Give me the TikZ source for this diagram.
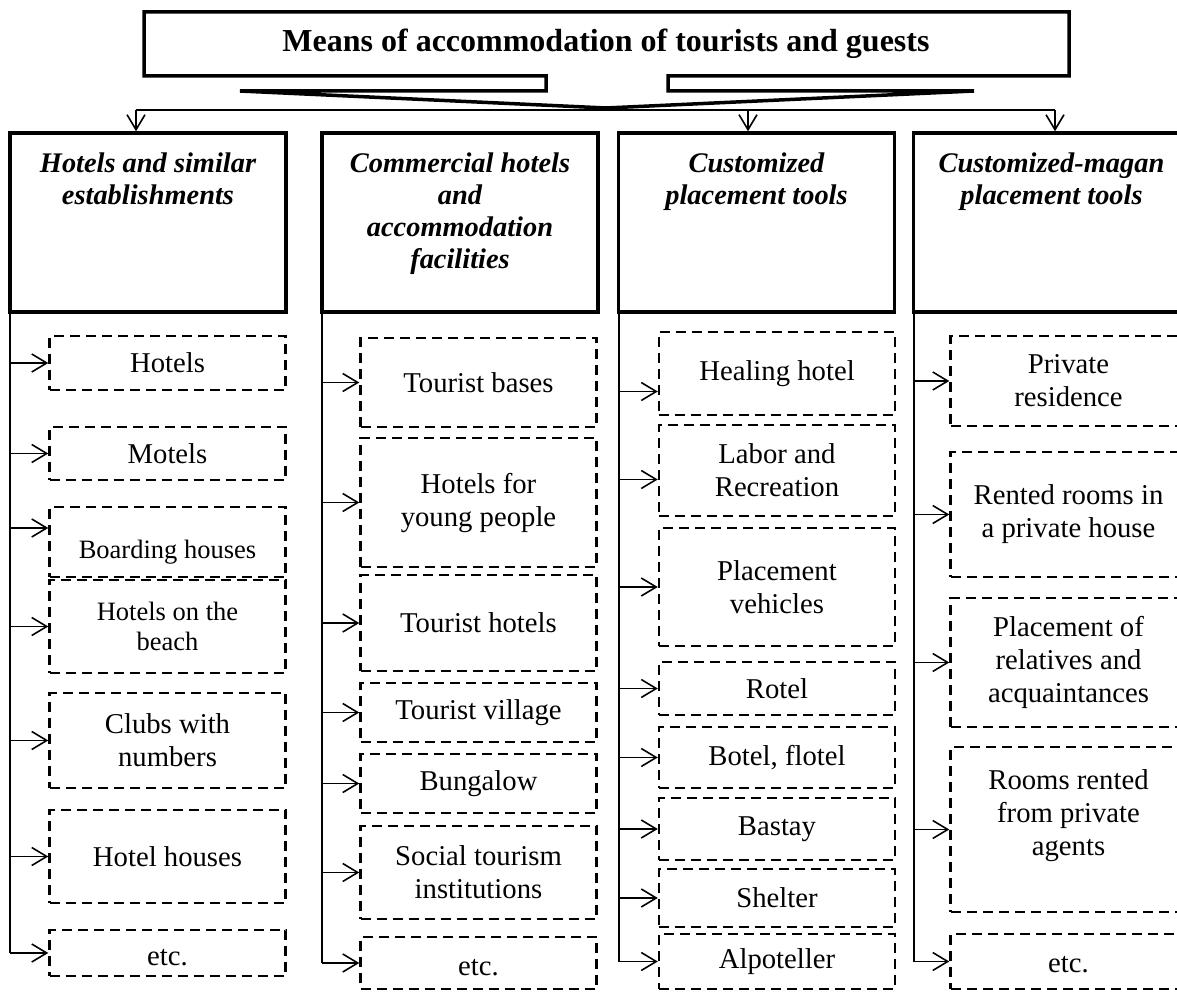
\documentclass[tikz,border=0pt]{standalone}
\usepackage{fontspec}
\setmainfont{Liberation Serif}
\usetikzlibrary{positioning,arrows.meta}

\begin{document}
\begin{tikzpicture}[x=1pt,y=-1pt,
    >={Straight Barb[length=15pt,width=18pt]},
    link/.style={line width=1.6pt},
    headbox/.style={draw,line width=3.5pt,minimum width=276pt,minimum height=179pt,inner sep=0pt},
    headtext/.style={inner sep=0pt,align=center,font=\fontsize{28.4}{32}\selectfont\bfseries\itshape},
    item/.style={draw,line width=2.4pt,dash pattern=on 10pt off 6pt,minimum width=236pt,inner sep=0pt,align=center,font=\fontsize{28.7}{33}\selectfont},
    smallitem/.style={item,font=\fontsize{26.5}{30}\selectfont}]
    \useasboundingbox (0,0) rectangle (1177,992);
    \clip (0,0) rectangle (1177,992);

    % title callout
    \node[font=\fontsize{32}{36}\selectfont\bfseries] (title) at (606,44) {Means of accommodation of tourists and guests};
    \coordinate (tip) at (606,108);
    \draw[line width=3.5pt] (144,12) -- (1069,12) -- (1069,76) -- (668,76) -- (668,91) -- (974,91) -- (tip)
        -- (240,91) -- (546,91) -- (546,76) -- (144,76) -- cycle;

    % column heads
    \node[headbox] (h1) at (148,222.5) {};
    \node[headbox] (h2) at (460,222.5) {};
    \node[headbox] (h3) at (756.5,222.5) {};
    \node[headbox] (h4) at (1051.5,222.5) {};
    \node[headtext, below=21pt of h1.north] (t1) {Hotels and similar\\establishments};
    \node[headtext, below=21pt of h2.north] (t2) {Commercial hotels\\and\\accommodation\\facilities};
    \node[headtext, below=21pt of h3.north] (t3) {Customized\\placement tools};
    \node[headtext, below=21pt of h4.north] (t4) {Customized-magan\\placement tools};

    % bus
    \coordinate (a1) at (136,110);
    \coordinate (a3) at (748,110);
    \coordinate (a4) at (1055,110);
    \draw[link] (a1) -- (a4);
    \draw[link,->] (a1) -- (a1 |- h1.north);
    \draw[link,->] (a3) -- (a3 |- h3.north);
    \draw[link,->] (a4) -- (a4 |- h4.north);

    % column 1
    \node[item, minimum height=54pt] (hotels) at (167.5,363) {Hotels};
    \node[item, minimum height=53pt] (motels) at (167.5,453.5) {Motels};
    \node[smallitem, minimum height=70pt, text height=32pt, text depth=0pt] (boarding) at (167.5,542) {Boarding houses};
    \node[smallitem, minimum height=93pt] (beach) at (167.5,626.5) {Hotels on the\\beach};
    \node[item, minimum height=95pt] (clubs) at (167.5,740.5) {Clubs with\\numbers};
    \node[item, minimum height=93pt] (houses) at (167.5,856.5) {Hotel houses};
    \node[item, minimum height=46pt, text height=24pt, text depth=0pt] (etc1) at (167.5,953) {etc.};

    % column 2
    \node[item, minimum height=89pt] (bases) at (478.5,382.5) {Tourist bases};
    \node[item, minimum height=129pt] (young) at (478.5,502.5) {Hotels for\\young people};
    \node[item, minimum height=96pt] (thotels) at (478.5,623) {Tourist hotels};
    \node[item, minimum height=59pt] (village) at (478.5,712.5) {Tourist village};
    \node[item, minimum height=59pt] (bungalow) at (478.5,783.5) {Bungalow};
    \node[item, minimum height=93pt] (social) at (478.5,872.5) {Social tourism\\institutions};
    \node[item, minimum height=52pt, text height=24pt, text depth=0pt] (etc2) at (478.5,963) {etc.};

    % column 3
    \node[item, minimum height=83pt] (healing) at (777,373.5) {Healing hotel};
    \node[item, minimum height=91pt] (labor) at (777,470.5) {Labor and\\Recreation};
    \node[item, minimum height=118pt] (vehicles) at (777,587) {Placement\\vehicles};
    \node[item, minimum height=53pt] (rotel) at (777,688.5) {Rotel};
    \node[item, minimum height=61pt] (botel) at (777,757.5) {Botel, flotel};
    \node[item, minimum height=62pt] (bastay) at (777,829) {Bastay};
    \node[item, minimum height=58pt] (shelter) at (777,898) {Shelter};
    \node[item, minimum height=55pt] (alpo) at (777,961.5) {Alpoteller};

    % column 4
    \node[item, minimum height=90pt] (residence) at (1068.5,381) {Private\\residence};
    \node[item, minimum height=125pt] (rented) at (1068.5,514.5) {Rented rooms in\\a private house};
    \node[item, minimum height=129pt] (relatives) at (1068.5,662.5) {Placement of\\relatives and\\acquaintances};
    \node[item, minimum height=165pt] (agents) at (1068.5,829.5) {Rooms rented\\from private\\agents\\\mbox{}};
    \node[item, minimum height=55pt, text height=21pt, text depth=0pt] (etc4) at (1068.5,961.5) {etc.};

    % column lines
    \coordinate (c1) at ([xshift=2pt]h1.south west);
    \coordinate (c2) at ([xshift=2pt]h2.south west);
    \coordinate (c3) at ([xshift=2pt]h3.south west);
    \coordinate (c4) at ([xshift=2pt]h4.south west);
    \draw[link] (c1) -- (c1 |- etc1.west);
    \draw[link] (c2) -- (c2 |- etc2.west);
    \draw[link] (c3) -- (c3 |- alpo.west);
    \draw[link] (c4) -- (c4 |- etc4.west);

    % off-centre arrow ends
    \coordinate (pboard) at ([yshift=14pt]boarding.west);
    \coordinate (pheal) at ([yshift=-18pt]healing.west);
    \coordinate (plabor) at ([yshift=-9pt]labor.west);

    \draw[link,->] (c1 |- hotels.west) -- (hotels.west);
    \draw[link,->] (c1 |- motels.west) -- (motels.west);
    \draw[link,->] (c1 |- pboard) -- (pboard);
    \draw[link,->] (c1 |- beach.west) -- (beach.west);
    \draw[link,->] (c1 |- clubs.west) -- (clubs.west);
    \draw[link,->] (c1 |- houses.west) -- (houses.west);
    \draw[link,->] (c1 |- etc1.west) -- (etc1.west);

    \draw[link,->] (c2 |- bases.west) -- (bases.west);
    \draw[link,->] (c2 |- young.west) -- (young.west);
    \draw[link,->] (c2 |- thotels.west) -- (thotels.west);
    \draw[link,->] (c2 |- village.west) -- (village.west);
    \draw[link,->] (c2 |- bungalow.west) -- (bungalow.west);
    \draw[link,->] (c2 |- social.west) -- (social.west);
    \draw[link,->] (c2 |- etc2.west) -- (etc2.west);

    \draw[link,->] (c3 |- pheal) -- (pheal);
    \draw[link,->] (c3 |- plabor) -- (plabor);
    \draw[link,->] (c3 |- vehicles.west) -- (vehicles.west);
    \draw[link,->] (c3 |- rotel.west) -- (rotel.west);
    \draw[link,->] (c3 |- botel.west) -- (botel.west);
    \draw[link,->] (c3 |- bastay.west) -- (bastay.west);
    \draw[link,->] (c3 |- shelter.west) -- (shelter.west);
    \draw[link,->] (c3 |- alpo.west) -- (alpo.west);

    \draw[link,->] (c4 |- residence.west) -- (residence.west);
    \draw[link,->] (c4 |- rented.west) -- (rented.west);
    \draw[link,->] (c4 |- relatives.west) -- (relatives.west);
    \draw[link,->] (c4 |- agents.west) -- (agents.west);
    \draw[link,->] (c4 |- etc4.west) -- (etc4.west);
\end{tikzpicture}
\end{document}
